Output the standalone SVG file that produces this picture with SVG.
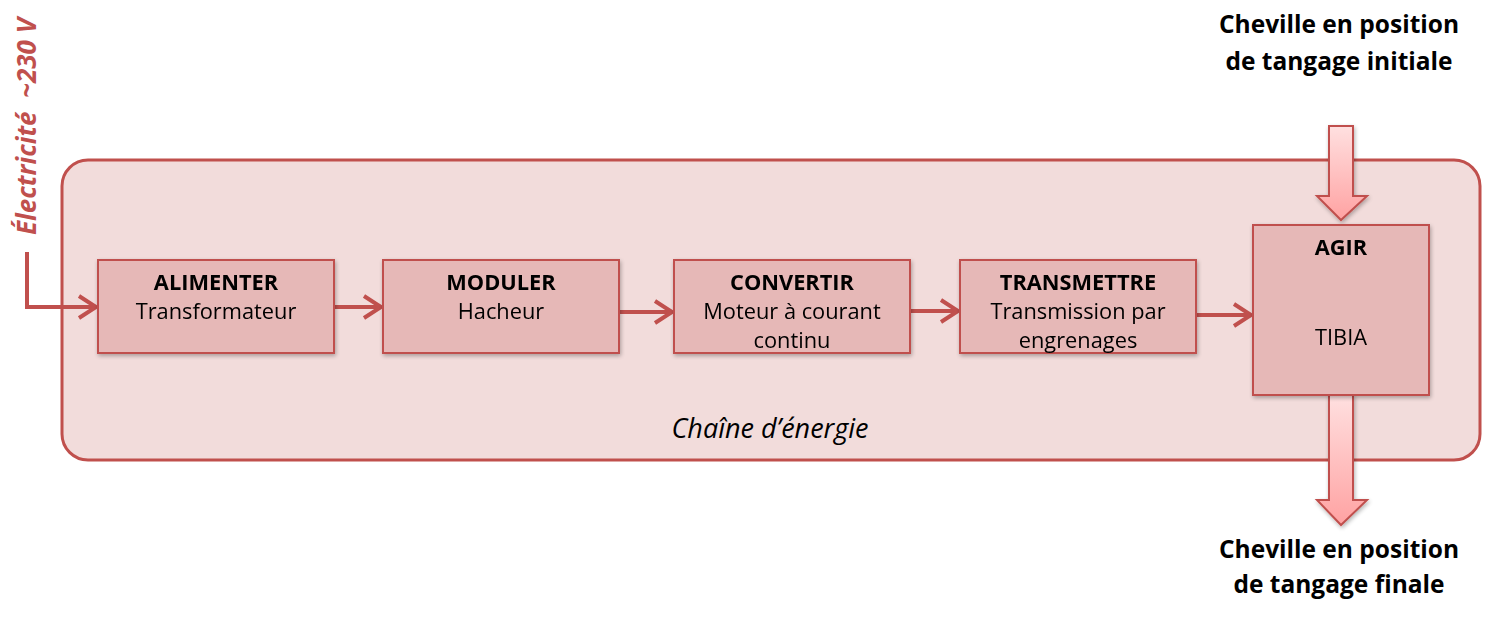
<svg xmlns="http://www.w3.org/2000/svg" width="1508" height="620" viewBox="0 0 1508 620">
<defs>
<linearGradient id="bg" x1="0" y1="0" x2="0" y2="1">
<stop offset="0" stop-color="#ffe0e0"/>
<stop offset="1" stop-color="#ffa2a2"/>
</linearGradient>
<filter id="sh" x="-10%" y="-10%" width="130%" height="130%">
<feGaussianBlur in="SourceAlpha" stdDeviation="2"/>
<feOffset dx="1" dy="2" result="b"/>
<feComponentTransfer><feFuncA type="linear" slope="0.3"/></feComponentTransfer>
<feMerge><feMergeNode/><feMergeNode in="SourceGraphic"/></feMerge>
</filter>
</defs>
<style>
text{font-family:"Open Sans","Liberation Sans",sans-serif;fill:#000}
.t{font-size:21.8px;text-anchor:middle}
.b{font-weight:bold}
.box{fill:#e6b8b7;stroke:#c0504d;stroke-width:2}
.con{fill:none;stroke:#c0504d;stroke-width:4}
.big{fill:url(#bg);stroke:#c0504d;stroke-width:2}
.h{font-size:24.5px;font-weight:bold;text-anchor:middle}
</style>
<g id="chain">
<rect x="62" y="160" width="1418" height="300" rx="26" fill="#f2dcdb" stroke="#c0504d" stroke-width="3"/>
<text x="770" y="438" class="t" style="font-size:27px" font-style="italic">Chaîne d’énergie</text>
</g>
<g id="connectors">
<path class="con" d="M27,252 V307 H96"/>
<path class="con" d="M334,307 H381"/>
<path class="con" d="M619,312 H672"/>
<path class="con" d="M910,311 H958"/>
<path class="con" d="M1196,315 H1251"/>
<g fill="none" stroke="#c0504d" stroke-width="4" stroke-linejoin="miter">
<path d="M79,296 L96,307 L79,318"/>
<path d="M364,296 L381,307 L364,318"/>
<path d="M655,301 L672,312 L655,323"/>
<path d="M941,300 L958,311 L941,322"/>
<path d="M1234,304 L1251,315 L1234,326"/>
</g>
</g>
<g id="in-arrow" filter="url(#sh)">
<path class="big" d="M1329,126 H1353 V196 H1367 L1341,220 L1317,196 H1329 Z"/>
</g>
<g id="out-arrow" filter="url(#sh)">
<path class="big" d="M1329,395 H1353 V500 H1367 L1341,525 L1317,500 H1329 Z"/>
</g>
<g id="alimenter" filter="url(#sh)">
<rect class="box" x="98" y="260" width="236" height="93"/>
<text x="216" y="290" class="t b">ALIMENTER</text>
<text x="216" y="319" class="t">Transformateur</text>
</g>
<g id="moduler" filter="url(#sh)">
<rect class="box" x="383" y="260" width="236" height="93"/>
<text x="501" y="290" class="t b">MODULER</text>
<text x="501" y="319" class="t">Hacheur</text>
</g>
<g id="convertir" filter="url(#sh)">
<rect class="box" x="674" y="260" width="236" height="93"/>
<text x="792" y="290" class="t b">CONVERTIR</text>
<text x="792" y="319" class="t">Moteur à courant</text>
<text x="792" y="348" class="t">continu</text>
</g>
<g id="transmettre" filter="url(#sh)">
<rect class="box" x="960" y="260" width="236" height="93"/>
<text x="1078" y="290" class="t b">TRANSMETTRE</text>
<text x="1078" y="319" class="t">Transmission par</text>
<text x="1078" y="348" class="t">engrenages</text>
</g>
<g id="agir" filter="url(#sh)">
<rect class="box" x="1253" y="225" width="176" height="170"/>
<text x="1341" y="255" class="t b">AGIR</text>
<text x="1341" y="345" class="t">TIBIA</text>
</g>
<g id="labels">
<text x="1339" y="33" class="h">Cheville en position</text>
<text x="1339" y="70" class="h">de tangage initiale</text>
<text x="1339" y="558" class="h">Cheville en position</text>
<text x="1339" y="593" class="h">de tangage finale</text>
<text transform="translate(36,235) rotate(-90)" style="font-size:26px;font-weight:bold;font-style:italic;fill:#c0504d" xml:space="preserve">Électricité  ~230 V</text>
</g>
</svg>
